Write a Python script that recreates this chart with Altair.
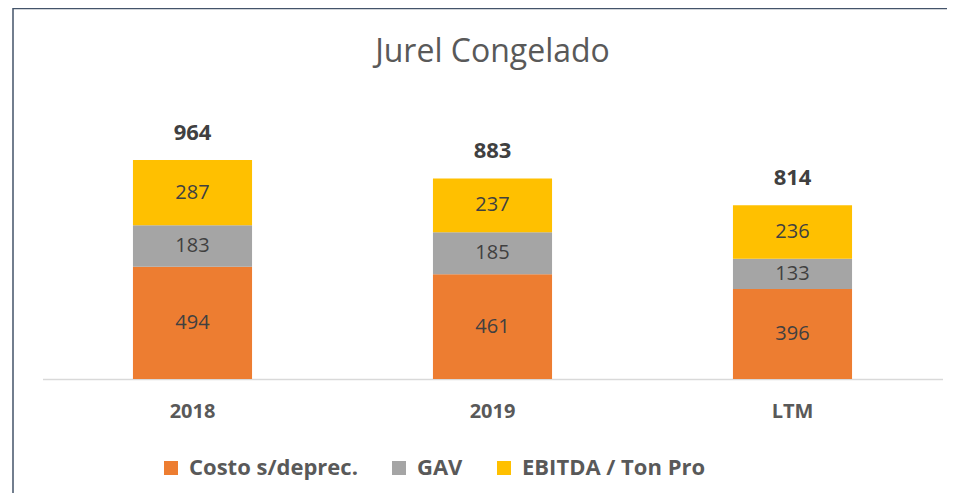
import altair as alt
import pandas as pd

categories = ["2018", "2019", "LTM"]
costo = [494, 461, 396]
gav = [183, 185, 133]
ebitda = [287, 237, 236]
totals = [964, 883, 814]
series = ["Costo s/deprec.", "GAV", "EBITDA / Ton Pro"]
colors = ["#ED7D31", "#A5A5A5", "#FFC000"]

FONT = "Open Sans"
rows = []
for i, c in enumerate(categories):
    for k, (s, vals) in enumerate(zip(series, [costo, gav, ebitda])):
        rows.append({"cat": c, "serie": s, "order": k, "value": vals[i]})
df = pd.DataFrame(rows)
tot = pd.DataFrame({
    "cat": categories,
    "total": totals,
    "top": [a + b + c for a, b, c in zip(costo, gav, ebitda)],
})

xenc = alt.X(
    "cat:N", sort=categories,
    scale=alt.Scale(paddingInner=0.603, paddingOuter=0.3015),
    axis=alt.Axis(title=None, labelAngle=0, ticks=False, domainColor="#D9D9D9",
                  domainWidth=1.5, labelFont=FONT, labelFontSize=20,
                  labelFontWeight="bold", labelColor="#595959", labelPadding=22),
)
yscale = alt.Scale(domain=[0, 1272])

bars = alt.Chart(df).mark_bar().encode(
    x=xenc,
    y=alt.Y("value:Q", stack="zero", scale=yscale, axis=None),
    color=alt.Color("serie:N", scale=alt.Scale(domain=series, range=colors),
                    legend=alt.Legend(title=None, orient="none", legendX=117.5, legendY=367,
                                      direction="horizontal", symbolType="square",
                                      symbolSize=196, symbolStrokeWidth=0,
                                      labelFont=FONT, labelFontSize=22, labelFontWeight="bold",
                                      labelColor="#595959", columnPadding=30, labelOffset=7,
                                      labelLimit=400)),
    order=alt.Order("order:Q"),
)

seg_labels = alt.Chart(df).transform_stack(
    stack="value", groupby=["cat"], as_=["y0", "y1"], sort=[alt.SortField("order")]
).transform_calculate(mid="(datum.y0 + datum.y1) / 2").mark_text(
    font=FONT, fontSize=20, color="#404040", baseline="middle"
).encode(
    x=alt.X("cat:N", sort=categories),
    y=alt.Y("mid:Q", scale=yscale),
    text=alt.Text("value:Q"),
)

tot_labels = alt.Chart(tot).mark_text(
    font=FONT, fontSize=22, fontWeight="bold", color="#404040", baseline="middle", dy=-27
).encode(
    x=alt.X("cat:N", sort=categories),
    y=alt.Y("top:Q", scale=yscale),
    text=alt.Text("total:Q"),
)

border = alt.Chart(pd.DataFrame({"a": [0]})).mark_rect(
    filled=False, stroke="#44546A", strokeWidth=1.5
).encode(x=alt.value(-29.5), x2=alt.value(1000), y=alt.value(-81.5), y2=alt.value(600))

chart = alt.layer(border, bars, seg_labels, tot_labels).properties(
    width=900, height=289,
    autosize=alt.AutoSizeParams(type="none"),
    padding={"left": 34.5, "top": 82, "right": 4.5, "bottom": 114},
    title=alt.Title("Jurel Congelado", font=FONT, fontSize=32, fontWeight="normal",
                    color="#595959", anchor="middle", offset=0, dy=61, frame="group"),
    background="white",
).configure_view(stroke=None)

chart.save("out.html", embed_options={"renderer": "svg", "actions": False})
